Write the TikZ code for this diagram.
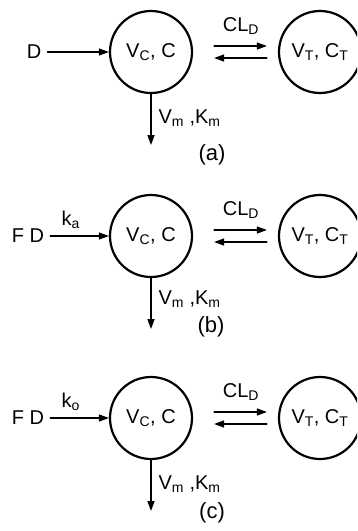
\documentclass[tikz,border=0pt]{standalone}
\usepackage{fontspec}
\setmainfont{Liberation Sans}
\usetikzlibrary{arrows.meta,positioning}
\tikzset{
  every picture/.style={line join=round, line cap=round, >={Triangle[length=10pt,width=7pt]}},
  every node/.style={font=\fontsize{20}{22}\selectfont},
  comp/.style={circle, draw, line width=2.2pt, minimum size=82pt, inner sep=0pt},
  flow/.style={->, line width=1.3pt},
  dose/.style={inner sep=6pt},
  tag/.style={font=\fontsize{22}{24}\selectfont, inner sep=1pt},
}

\begin{document}
\begin{tikzpicture}[x=1pt,y=-1pt]
\clip (0,0) rectangle (357,531);
% (a)
\node[comp] (vca) at (151,52) {V\textsubscript{C}, C};
\node[comp] (vta) at (320,52) {V\textsubscript{T}, C\textsubscript{T}};
\node[dose] (da) at (34,52) {D};
\draw[flow] (da) -- (vca);
\node (cla) at (241,26) {CL\textsubscript{D}};
\draw[flow,shorten <=21pt,shorten >=11pt] ([yshift=6pt]vca.east) -- ([yshift=6pt]vta.west);
\draw[flow,shorten <=11pt,shorten >=21pt] ([yshift=-6pt]vta.west) -- ([yshift=-6pt]vca.east);
\coordinate (ea) at (151,145);
\draw[flow] (vca) -- (ea);
\node[anchor=west] (kma) at (155,118) {V\textsubscript{m} ,K\textsubscript{m}};
\node[tag] (laba) at (212,155) {(a)};
% (b)
\node[comp] (vcb) at (151,236) {V\textsubscript{C}, C};
\node[comp] (vtb) at (320,236) {V\textsubscript{T}, C\textsubscript{T}};
\node[dose] (db) at (28,236) {F D};
\draw[flow] (db) -- node[above=3pt,pos=0.35] (kab) {k\textsubscript{a}} (vcb);
\node (clb) at (241,210) {CL\textsubscript{D}};
\draw[flow,shorten <=21pt,shorten >=11pt] ([yshift=6pt]vcb.east) -- ([yshift=6pt]vtb.west);
\draw[flow,shorten <=11pt,shorten >=21pt] ([yshift=-6pt]vtb.west) -- ([yshift=-6pt]vcb.east);
\coordinate (eb) at (151,329);
\draw[flow] (vcb) -- (eb);
\node[anchor=west] (kmb) at (155,299) {V\textsubscript{m} ,K\textsubscript{m}};
\node[tag] (labb) at (211,327) {(b)};
% (c)
\node[comp] (vcc) at (151,418) {V\textsubscript{C}, C};
\node[comp] (vtc) at (320,418) {V\textsubscript{T}, C\textsubscript{T}};
\node[dose] (dc) at (28,418) {F D};
\draw[flow] (dc) -- node[above=3pt,pos=0.35] (koc) {k\textsubscript{o}} (vcc);
\node (clc) at (241,392) {CL\textsubscript{D}};
\draw[flow,shorten <=21pt,shorten >=11pt] ([yshift=6pt]vcc.east) -- ([yshift=6pt]vtc.west);
\draw[flow,shorten <=11pt,shorten >=21pt] ([yshift=-6pt]vtc.west) -- ([yshift=-6pt]vcc.east);
\coordinate (ec) at (151,511);
\draw[flow] (vcc) -- (ec);
\node[anchor=west] (kmc) at (155,484) {V\textsubscript{m} ,K\textsubscript{m}};
\node[tag] (labc) at (212,513) {(c)};
\end{tikzpicture}
\end{document}
